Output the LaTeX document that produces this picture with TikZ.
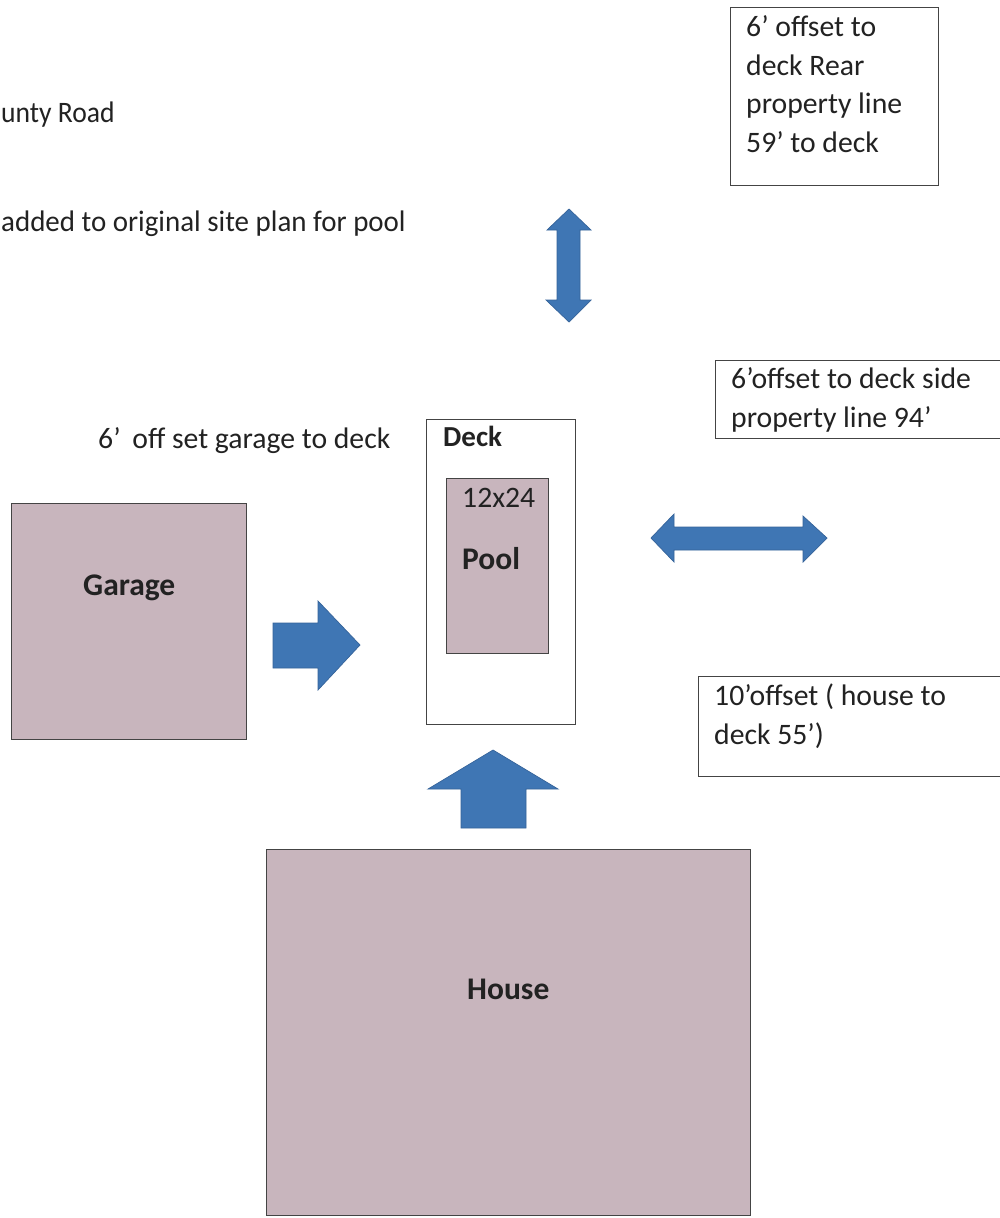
\documentclass[tikz,border=0pt]{standalone}
\usepackage{fontspec}
\setmainfont{Carlito}
\definecolor{bldg}{HTML}{C8B5BD}
\definecolor{arr}{HTML}{3F76B4}
\definecolor{arredge}{HTML}{35639A}
\definecolor{ink}{HTML}{222222}
\definecolor{edge}{HTML}{444444}
\tikzset{
 bldgbox/.style={draw=edge,line width=1pt,fill=bldg,anchor=north west,inner sep=0pt},
 notebox/.style={draw=edge,line width=1pt,fill=white,anchor=north west,inner sep=0pt},
 lbl/.style={anchor=base west,inner sep=0pt,font=\fontsize{29.7}{34}\selectfont,text=ink},
 blbl/.style={anchor=base west,inner sep=0pt,font=\fontsize{31.5}{36}\selectfont\bfseries,text=ink},
 arrowfill/.style={fill=arr,draw=arredge,line width=0.7pt}}
\begin{document}
\begin{tikzpicture}[x=1pt,y=-1pt]
\useasboundingbox (0,0) rectangle (1000,1218);
\fill[white] (0,0) rectangle (1000,1218);
% boxes
\node[notebox,minimum width=208pt,minimum height=178pt] (rear) at (730,7) {};
\node[notebox,minimum width=290pt,minimum height=78pt] (side) at (715,360) {};
\node[notebox,minimum width=305pt,minimum height=100pt] (offs) at (698,676) {};
\node[notebox,minimum width=149pt,minimum height=305pt] (deck) at (426,419) {};
\node[bldgbox,minimum width=102pt,minimum height=175pt] (pool) at (446,478) {};
\node[bldgbox,minimum width=235pt,minimum height=236pt] (garage) at (11,503) {};
\node[bldgbox,minimum width=484pt,minimum height=366pt] (house) at (266,849) {};
% labels
\node[lbl] (t1) at (746,36) {6’ offset to};
\node[lbl] (t2) at (746,75) {deck Rear};
\node[lbl] (t3) at (746,113) {property line};
\node[lbl] (t4) at (746,152) {59’ to deck};
\node[lbl] (t5) at (731,388) {6’offset to deck side};
\node[lbl] (t6) at (731,427) {property line 94’};
\node[lbl] (t7) at (714,705) {10’offset ( house to};
\node[lbl] (t8) at (714,744) {deck 55’)};
\node[lbl] (t9) at (1,122) {\addfontfeature{FakeStretch=0.93}unty Road};
\node[lbl] (t10) at (1,231) {\addfontfeature{FakeStretch=0.975}added to original site plan for pool};
\node[lbl] (t11) at (98,448) {6’\hspace{5pt} off set garage to deck};
\node[blbl,font=\fontsize{29}{34}\selectfont\bfseries] (t12) at (443,446) {Deck};
\node[lbl] (t13) at (462,507) {12x24};
\node[blbl] (t14) at (462,569) {Pool};
\node[blbl] (t15) at (83,595) {Garage};
\node[blbl] (t16) at (467,999) {House};
% arrows
\path[arrowfill] (569,209) -- (591,230) -- (580,230) -- (580,300) -- (591,300) -- (569,322) -- (546,300) -- (557,300) -- (557,230) -- (547,230) -- cycle;
\path[arrowfill] (651,538) -- (674,514) -- (674,527) -- (803,527) -- (803,516) -- (827,538) -- (803,562) -- (803,550) -- (674,550) -- (674,562) -- cycle;
\path[arrowfill] (360,645) -- (318,690) -- (318,668) -- (273,668) -- (273,623) -- (318,623) -- (318,601) -- cycle;
\path[arrowfill] (493,750) -- (558,789) -- (526,789) -- (526,828) -- (461,828) -- (461,789) -- (428,789) -- cycle;
\end{tikzpicture}
\end{document}
